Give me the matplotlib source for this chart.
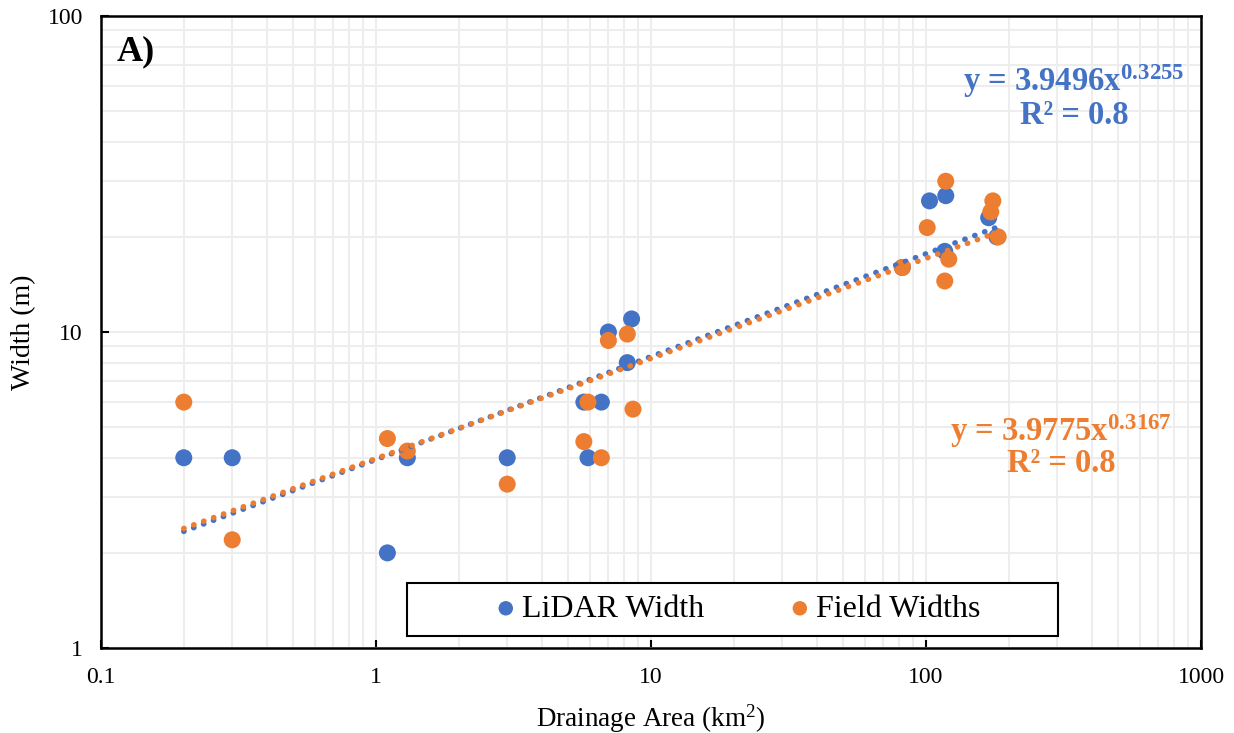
import matplotlib
matplotlib.use("Agg")
import matplotlib.pyplot as plt
import numpy as np
from matplotlib.ticker import NullFormatter
from matplotlib.patches import Rectangle

plt.rcParams['font.family'] = ['Liberation Serif', 'DejaVu Serif']
plt.rcParams['mathtext.fontset'] = 'custom'
plt.rcParams['mathtext.rm'] = 'Liberation Serif'
plt.rcParams['mathtext.it'] = 'Liberation Serif:italic'
plt.rcParams['mathtext.bf'] = 'Liberation Serif:bold'

# Data
lidar_area = [0.2, 0.3, 1.1, 1.3, 3.0, 5.7, 5.9, 6.6, 7.0, 8.2, 8.5, 82, 103, 117, 118, 169, 181]
lidar_width = [4, 4, 2, 4, 4, 6, 4, 6, 10, 8, 11, 16, 26, 18, 27, 23, 20]
field_area = [0.2, 0.3, 1.1, 1.3, 3.0, 5.7, 5.9, 6.6, 7.0, 8.2, 8.6, 82, 101, 117, 118, 121, 172, 175, 183]
field_width = [6, 2.2, 4.6, 4.2, 3.3, 4.5, 6, 4, 9.4, 9.85, 5.7, 16, 21.4, 14.5, 30, 17, 24, 26, 20]

lidar_a, lidar_b = 3.9496, 0.3255
field_a, field_b = 3.9775, 0.3167

blue = '#4472C4'
orange = '#ED7D31'

W, H = 1234, 733
fig = plt.figure(figsize=(W / 100, H / 100), dpi=100)
ax = fig.add_axes([101/W, 85/H, 1100/W, 632/H])
ax.set_xscale('log')
ax.set_yscale('log')
ax.set_xlim(0.1, 1000)
ax.set_ylim(1, 100)

ax.grid(True, which='both', color='#ededed', linewidth=1.5, zorder=0)
ax.set_axisbelow(True)

ax.scatter(lidar_area, lidar_width, s=150, color=blue, zorder=3, label='LiDAR Width', edgecolors='none')
ax.scatter(field_area, field_width, s=150, color=orange, zorder=4, label='Field Widths', edgecolors='none')

def trend(xs, a, b):
    x = np.logspace(np.log10(min(xs)), np.log10(max(xs)), 200)
    return x, a * x ** b

xl, yl = trend(lidar_area, lidar_a, lidar_b)
xf, yf = trend(field_area, field_a, field_b)
ax.plot(xl, yl, color=blue, linewidth=4, linestyle=(0, (0.05, 1.85)), dash_capstyle='round', zorder=5)
ax.plot(xf, yf, color=orange, linewidth=4, linestyle=(0, (0.05, 1.85)), dash_capstyle='round', zorder=6)

ax.set_xticks([0.1, 1, 10, 100, 1000])
ax.set_xticklabels(['0.1', '1', '10', '100', '1000'])
ax.set_yticks([1, 10, 100])
ax.set_yticklabels(['1', '10', '100'])
ax.xaxis.set_minor_formatter(NullFormatter())
ax.yaxis.set_minor_formatter(NullFormatter())
ax.tick_params(which='major', direction='in', length=6, width=1.5, labelsize=17)
ax.tick_params(axis='x', which='major', pad=14)
ax.tick_params(axis='y', which='major', pad=13)
ax.tick_params(which='minor', length=0)

for s in ax.spines.values():
    s.set_linewidth(1.8)
    s.set_color('black')

ax.set_xlabel('Drainage Area (km$^{2}$)', fontsize=19.5, labelpad=10)
ax.set_ylabel('Width (m)', fontsize=20)
ax.yaxis.set_label_coords((24 - 101) / 1100, 0.5)
ax.yaxis.label.set_verticalalignment('center')

ax.text(117/W, (H-52)/H, 'A)', transform=fig.transFigure, fontsize=26,
        fontweight='bold', va='center', ha='left')

eq_kw = dict(transform=fig.transFigure, fontsize=23.5, fontweight='bold', ha='center', va='center')
ax.text(1074/W, (H-81)/H, r'y = 3.9496x$^{\mathbf{0.3255}}$', color=blue, **eq_kw)
ax.text(1074/W, (H-116)/H, 'R² = 0.8', color=blue, **eq_kw)
ax.text(1061/W, (H-431)/H, r'y = 3.9775x$^{\mathbf{0.3167}}$', color=orange, **eq_kw)
ax.text(1061/W, (H-464)/H, 'R² = 0.8', color=orange, **eq_kw)

# legend frame (Excel-style box)
box = Rectangle((407/W, (H-636)/H), (1058-407)/W, 53/H, transform=fig.transFigure,
                facecolor='white', edgecolor='black', linewidth=1.5, zorder=9, clip_on=False)
ax.add_artist(box)

leg = ax.legend(loc='center', bbox_to_anchor=(735/W, (H-609)/H), bbox_transform=fig.transFigure,
                ncol=2, fontsize=23, frameon=False,
                handletextpad=0.0, columnspacing=2.5, borderpad=0.0, markerscale=0.85,
                handlelength=1.0, borderaxespad=0)
leg.set_zorder(10)

fig.savefig('out.png', dpi=100)
